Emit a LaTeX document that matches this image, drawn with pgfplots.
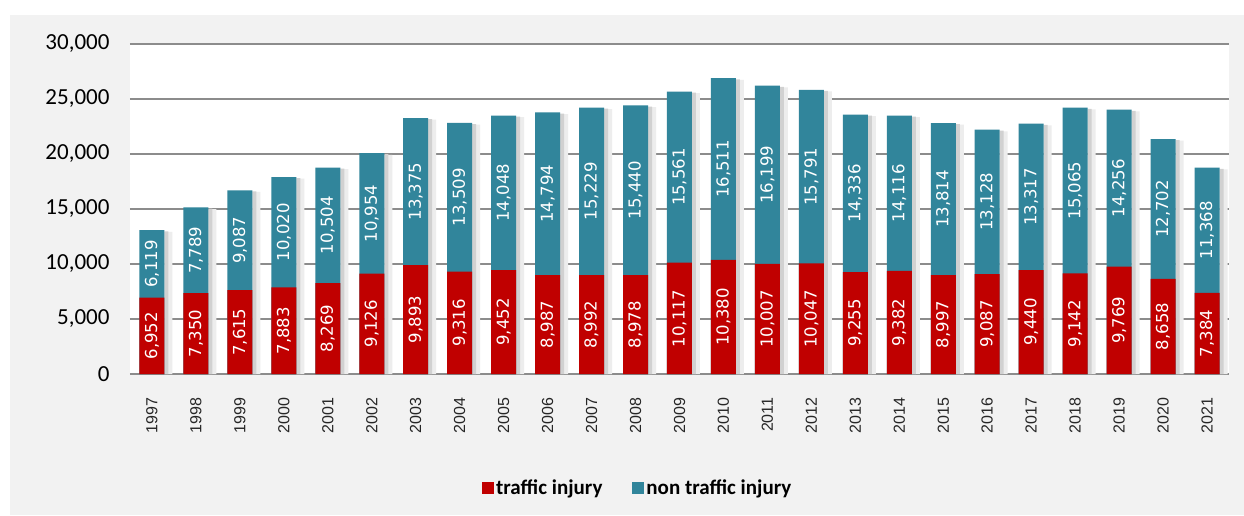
\documentclass[border=0pt]{standalone}
\usepackage{pgfplots}
\usepackage{pgfplotstable}
\pgfplotsset{compat=1.18}
\usepackage{fontspec}
\setmainfont{Carlito}
\newfontfamily\dejavu{DejaVu Sans}
\newfontfamily\libsans{Liberation Sans}
\definecolor{tred}{RGB}{192,0,0}
\definecolor{tteal}{RGB}{49,133,155}
\definecolor{panel}{RGB}{242,242,242}
\definecolor{gridc}{RGB}{140,140,140}

\pgfplotstableread{
x traffic non
0 6952 6119
1 7350 7789
2 7615 9087
3 7883 10020
4 8269 10504
5 9126 10954
6 9893 13375
7 9316 13509
8 9452 14048
9 8987 14794
10 8992 15229
11 8978 15440
12 10117 15561
13 10380 16511
14 10007 16199
15 10047 15791
16 9255 14336
17 9382 14116
18 8997 13814
19 9087 13128
20 9440 13317
21 9142 15065
22 9769 14256
23 8658 12702
24 7384 11368
}\data

\pgfplotsset{
  common/.style={
    at={(0pt,0pt)}, anchor=south west,
    scale only axis, width=1099pt, height=330pt,
    xmin=-0.5, xmax=24.5, ymin=0, ymax=30000,
    scaled y ticks=false,
    /pgf/number format/fixed, /pgf/number format/precision=0,
    /pgf/number format/1000 sep={,}, /pgf/number format/assume math mode=true,
  },
  vlabel/.style={nodes near coords, point meta=explicit,
    every node near coord/.append style={rotate=90, anchor=center, text=white,
      font=\dejavu\fontsize{16.5}{16.5}\selectfont}},
}

\begin{document}
\begin{tikzpicture}
\fill[white] (-130pt,-141pt) rectangle (1114pt,374pt);
\fill[panel] (-120pt,-141pt) rectangle (1114pt,359pt);
\begin{axis}[
  common,
  ybar, bar width=25pt, bar shift=0pt,
  axis background/.style={fill=white},
  axis line style={draw=none},
  ymajorgrids, grid style={gridc, line width=1.2pt},
  ytick={0,5000,10000,15000,20000,25000,30000},
  yticklabel={\pgfmathprintnumber{\tick}},
  xtick={0,...,24},
  xticklabels={1997,1998,1999,2000,2001,2002,2003,2004,2005,2006,2007,2008,2009,2010,2011,2012,2013,2014,2015,2016,2017,2018,2019,2020,2021},
  major tick length=0pt,
  x tick label style={rotate=90, anchor=east, font=\libsans\fontsize{16}{16}\selectfont, text=black!85},
  xticklabel shift=20pt,
  y tick label style={anchor=east, font=\fontsize{23}{23}\selectfont, text=black},
  yticklabel shift=17pt,
  reverse legend,
  legend style={at={(axis description cs:0.462,-0.345)}, anchor=center,
    legend columns=2, draw=none, fill=none,
    font=\bfseries\fontsize{21}{24}\selectfont,
    /tikz/every even column/.append style={column sep=28pt}},
]
\addplot[forget plot, draw=none, bar width=8pt, bar shift=16.5pt, fill=black!7]
  table[x=x, y expr={\thisrow{traffic}+\thisrow{non}-150}] {\data};
\addplot[forget plot, draw=none, bar width=4pt, bar shift=14.5pt, fill=black!18]
  table[x=x, y expr={\thisrow{traffic}+\thisrow{non}-100}] {\data};
\addplot[fill=tteal, draw=none,
  legend image code/.code={\fill[tteal] (0pt,-6pt) rectangle (12pt,6pt);}]
  table[x=x, y expr={\thisrow{traffic}+\thisrow{non}}] {\data};
\addplot[fill=tred, draw=none,
  legend image code/.code={\fill[tred] (0pt,-6pt) rectangle (12pt,6pt);}]
  table[x=x, y=traffic] {\data};
\legend{non traffic injury, traffic injury}
\end{axis}
\begin{axis}[common, hide axis]
\addplot[draw=none, mark=none, vlabel]
  table[x=x, y expr={\thisrow{traffic}/2}, meta=traffic] {\data};
\addplot[draw=none, mark=none, vlabel]
  table[x=x, y expr={\thisrow{traffic}+\thisrow{non}/2}, meta=non] {\data};
\end{axis}
\end{tikzpicture}
\end{document}
